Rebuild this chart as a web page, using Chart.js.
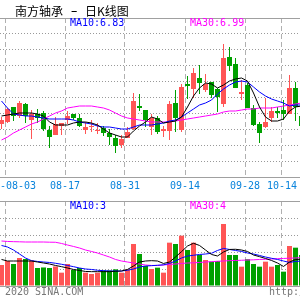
<!DOCTYPE html>
<html>
<head>
<meta charset="utf-8">
<script src="https://cdn.jsdelivr.net/npm/chart.js@4.4.0/dist/chart.umd.min.js"></script>
<style>
html, body { margin: 0; padding: 0; background: #fff; }
#wrap { position: relative; width: 300px; height: 300px; overflow: hidden; }
canvas { position: absolute; left: 0; top: 0; }
.t { position: absolute; white-space: nowrap; font-family: "DejaVu Sans Mono", monospace; font-size: 10px; line-height: 10px; }
.h { position: absolute; white-space: nowrap; font-family: "Noto Sans CJK SC", sans-serif; font-size: 12px; line-height: 14px; color: #000; top: 4px; }
</style>
</head>
<body>
<div id="wrap">
  <canvas id="price" width="300" height="300"></canvas>
  <canvas id="vol" width="300" height="300"></canvas>
  <div class="h" style="left:15px">南方轴承</div>
  <div class="h" style="left:68px;font-family:'DejaVu Sans Mono';transform:scaleX(1.7);transform-origin:0 0">-</div>
  <div class="h" style="left:85px">日K线图</div>
  <div class="t" style="left:70px;top:18px;color:#0000ff">MA10:6.83</div>
  <div class="t" style="left:190px;top:18px;color:#ff00ff">MA30:6.99</div>
  <div class="t" style="left:70px;top:201px;color:#0000ff">MA10:3</div>
  <div class="t" style="left:190px;top:201px;color:#ff00ff">MA30:4</div>
  <div id="dates"></div>
  <div class="t" style="left:5px;top:287px;color:#777">2020 SINA.COM</div>
  <div class="t" style="left:269px;top:287px;color:#777">http://finance.sina.com.cn</div>
</div>
<script>
// daily candles, 07-31 .. 10-19 (index 0..50)
const open  = [6.79,6.81,6.96,6.87,6.99,6.83,6.89,6.90,6.73,6.68,6.77,6.83,6.89,6.85,6.73,6.76,6.72,6.75,6.70,6.65,6.58,6.65,6.74,6.97,6.93,6.76,6.85,6.72,6.72,7.00,6.73,7.19,7.14,7.25,7.13,7.21,7.14,6.99,7.46,7.39,7.09,7.18,6.95,6.79,6.76,6.85,6.92,6.93,6.89,7.15,6.87];
const high  = [6.86,6.95,6.96,7.02,7.00,6.93,6.94,6.92,6.77,6.86,6.80,6.92,6.89,6.89,6.81,6.83,6.80,6.77,6.74,6.68,6.68,6.76,7.10,7.09,6.93,6.89,6.87,6.77,7.02,7.13,7.19,7.27,7.35,7.38,7.29,7.21,7.15,7.59,7.56,7.45,7.23,7.20,6.98,6.81,7.05,6.96,6.96,7.03,7.28,7.21,6.89];
const low   = [6.74,6.80,6.82,6.85,6.80,6.64,6.80,6.72,6.55,6.68,6.68,6.79,6.83,6.76,6.69,6.71,6.69,6.67,6.58,6.50,6.55,6.65,6.73,6.92,6.76,6.68,6.69,6.66,6.63,6.71,6.71,7.04,7.05,7.09,7.11,7.05,6.91,6.96,7.32,7.15,7.03,6.95,6.77,6.60,6.75,6.81,6.85,6.83,6.89,6.82,6.76];
const close = [6.83,6.94,6.87,7.00,6.87,6.89,6.85,6.74,6.66,6.79,6.80,6.87,6.85,6.77,6.76,6.77,6.73,6.70,6.66,6.57,6.64,6.71,7.02,6.95,6.83,6.85,6.71,6.74,6.99,6.85,7.16,7.17,7.30,7.20,7.19,7.08,7.06,7.45,7.37,7.15,7.11,6.95,6.78,6.70,6.81,6.92,6.90,6.89,7.15,6.96,6.77];

// price moving averages as drawn
const ma5  = [6.87,6.88,6.89,6.90,6.90,6.90,6.89,6.87,6.81,6.78,6.78,6.78,6.80,6.81,6.81,6.80,6.78,6.74,6.70,6.68,6.66,6.66,6.72,6.77,6.81,6.86,6.84,6.80,6.81,6.82,6.86,6.96,7.07,7.15,7.20,7.19,7.15,7.18,7.22,7.24,7.25,7.22,7.10,6.96,6.86,6.82,6.82,6.84,6.92,6.96,6.97];
const ma10 = [7.02,6.95,6.89,6.88,6.87,6.87,6.86,6.85,6.84,6.84,6.84,6.84,6.83,6.81,6.80,6.79,6.77,6.76,6.76,6.75,6.74,6.74,6.76,6.78,6.78,6.78,6.79,6.80,6.82,6.83,6.86,6.90,6.94,6.98,7.00,7.03,7.09,7.14,7.18,7.21,7.22,7.21,7.16,7.11,7.07,7.04,7.02,7.00,6.97,6.98,6.98];
const ma30 = [6.63,6.66,6.70,6.73,6.76,6.79,6.81,6.84,6.87,6.90,6.92,6.95,6.96,6.97,6.97,6.97,6.96,6.95,6.93,6.90,6.87,6.85,6.84,6.83,6.82,6.81,6.81,6.81,6.81,6.82,6.83,6.84,6.85,6.86,6.87,6.88,6.89,6.91,6.92,6.92,6.93,6.94,6.94,6.95,6.95,6.95,6.96,6.97,6.98,6.99,7.00];

// volume (10k lots) and its averages
const volume = [3.15,3.75,3.30,4.20,4.05,3.83,2.70,2.78,2.70,2.93,2.00,3.30,2.40,2.70,2.00,1.80,2.00,2.33,2.33,2.50,2.00,2.48,6.30,4.80,3.00,2.55,2.75,2.00,6.50,6.30,7.55,5.40,6.50,4.65,3.90,3.65,3.75,9.30,4.65,4.65,2.90,4.02,3.30,2.90,3.65,2.90,3.15,2.15,6.00,5.75,4.65];
const vma5  = [3.98,3.75,3.75,3.75,3.75,3.75,3.60,3.45,3.30,3.08,2.90,2.70,2.48,2.33,2.18,2.15,2.15,2.15,2.15,2.21,2.25,2.48,3.00,3.60,3.75,3.80,3.75,3.38,3.60,4.35,5.15,6.00,6.41,6.08,5.40,4.73,4.50,5.10,5.48,5.51,5.40,5.18,4.65,4.40,4.13,3.83,3.45,2.93,3.60,3.98,4.01];
const vma10 = [6.08,5.85,5.40,4.80,4.20,3.80,3.68,3.60,3.53,3.41,3.26,3.08,2.90,2.70,2.55,2.48,2.36,2.30,2.25,2.25,2.25,2.36,2.55,2.85,3.00,3.05,3.11,3.18,3.38,3.75,4.20,4.50,4.61,4.73,4.80,4.91,5.33,5.63,5.48,5.33,5.18,4.95,4.80,4.58,4.35,4.16,3.98,3.75,3.53,3.68,3.75];
const vma30 = [6.75,6.68,6.65,6.63,6.60,6.60,6.60,6.60,6.57,6.56,6.38,6.15,5.93,5.70,5.40,5.18,4.95,4.65,4.35,3.98,3.75,3.60,3.45,3.30,3.15,3.08,3.08,3.15,3.23,3.30,3.38,3.45,3.48,3.53,3.60,3.65,3.71,3.75,3.80,3.83,3.86,3.90,3.93,3.98,4.01,4.05,4.10,4.13,4.17,4.20,4.25];

// date axis
const tickIndex  = [1, 11, 21, 31, 41, 47];
const tickLabels = ["-08-03", "08-17", "08-31", "09-14", "09-28", "10-14"];
const tickLeft   = [0, 50, 110, 170, 230, 267];

const upColor = "#ff5555";
const downColor = "#00a000";
const idx = open.map((_, i) => i);
const candleColor = ctx => close[ctx.dataIndex] >= open[ctx.dataIndex] ? upColor : downColor;

const datesBox = document.getElementById("dates");
tickLabels.forEach((txt, i) => {
    const d = document.createElement("div");
    d.className = "t";
    d.style.left = tickLeft[i] + "px";
    d.style.top = "181px";
    d.style.color = "#0a84dc";
    d.textContent = txt;
    datesBox.appendChild(d);
});

function xScale() {
    return {
        type: "linear",
        min: -0.25,
        max: 49.75,
        offset: false,
        afterBuildTicks: s => { s.ticks = tickIndex.map(k => ({ value: k - 5 / 12 })); },
        ticks: { display: false },
        grid: { color: "#b0b0b0", drawTicks: false, offset: false },
        border: { display: false, dash: [5, 3] },
    };
}

function yScales(min, max, n) {
    return {
        y: {
            min: min, max: max,
            afterBuildTicks: s => { s.ticks = Array.from({ length: n + 1 }, (_, i) => ({ value: min + (max - min) * i / n })); },
            ticks: { display: false },
            grid: { color: "#999999", drawTicks: false },
            border: { display: false, dash: [1, 2] },
        },
        yb: {
            min: min, max: max,
            afterBuildTicks: s => { s.ticks = [{ value: min }, { value: max }]; },
            ticks: { display: false },
            grid: { color: "#a0a0a0", drawTicks: false },
            border: { display: false },
        },
    };
}

function lineSet(values, color) {
    return {
        type: "line",
        data: values.map((v, i) => ({ x: idx[i], y: v })),
        borderColor: color,
        borderWidth: 1,
        pointRadius: 0,
        pointHoverRadius: 0,
        tension: 0,
        fill: false,
    };
}

const common = {
    responsive: false,
    animation: false,
    events: [],
    plugins: { legend: { display: false }, tooltip: { enabled: false } },
};

new Chart(document.getElementById("price"), {
    type: "bar",
    data: {
        datasets: [
            lineSet(ma5, "#000000"),
            lineSet(ma10, "#0000ff"),
            lineSet(ma30, "#ff00ff"),
            {
                data: idx.map(i => ({ x: i, y: [open[i], close[i]] })),
                backgroundColor: candleColor,
                barThickness: 5,
                minBarLength: 1,
                grouped: false,
                inflateAmount: 0,
                borderWidth: 0,
            },
            {
                data: idx.map(i => ({ x: i, y: [low[i], high[i]] })),
                backgroundColor: candleColor,
                barThickness: 1,
                grouped: false,
                inflateAmount: 0,
                borderWidth: 0,
            },
        ],
    },
    options: {
        ...common,
        layout: { autoPadding: false, padding: { top: 18, bottom: 123, left: 0, right: 0 } },
        scales: { x: xScale(), ...yScales(6.26, 7.85, 10) },
    },
});

new Chart(document.getElementById("vol"), {
    type: "bar",
    data: {
        datasets: [
            lineSet(vma5, "#000000"),
            lineSet(vma10, "#0000ff"),
            lineSet(vma30, "#ff00ff"),
            {
                data: idx.map(i => ({ x: i, y: volume[i] })),
                backgroundColor: candleColor,
                barThickness: 5,
                grouped: false,
                inflateAmount: 0,
                borderWidth: 0,
            },
        ],
    },
    options: {
        ...common,
        layout: { autoPadding: false, padding: { top: 201, bottom: 14, left: 0, right: 0 } },
        scales: { x: xScale(), ...yScales(0, 12.75, 5) },
    },
});
</script>
</body>
</html>
